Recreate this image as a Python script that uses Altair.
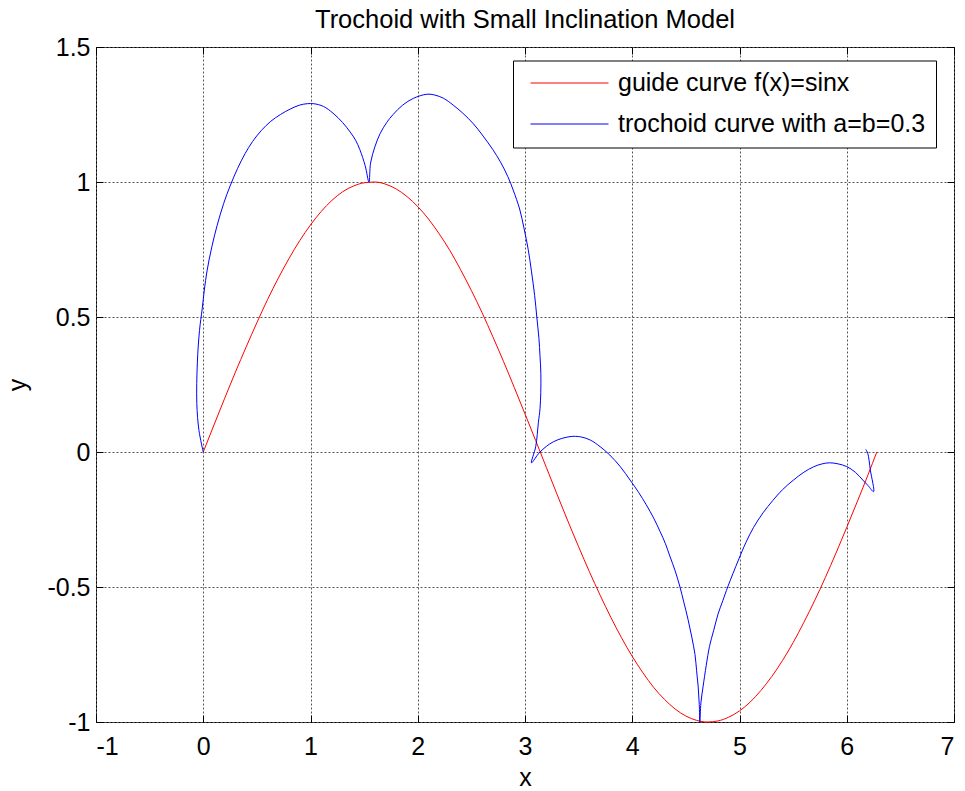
import altair as alt
import pandas as pd

FONT = "Liberation Sans"
FS = 25
SERIES = ["guide curve f(x)=sinx", "trochoid curve with a=b=0.3"]
COLORS = ["#ff0000", "#0000ff"]
X_TICKS = [-1, 0, 1, 2, 3, 4, 5, 6, 7]
Y_TICKS = [-1, -0.5, 0, 0.5, 1, 1.5]

# guide curve
guide_x = [0.0, 0.1, 0.2, 0.3, 0.4, 0.5, 0.6, 0.7, 0.8, 0.9,
           1.0, 1.1, 1.2, 1.3, 1.4, 1.5, 1.6, 1.7, 1.8, 1.9,
           2.0, 2.1, 2.2, 2.3, 2.4, 2.5, 2.6, 2.7, 2.8, 2.9,
           3.0, 3.1, 3.2, 3.3, 3.4, 3.5, 3.6, 3.7, 3.8, 3.9,
           4.0, 4.1, 4.2, 4.3, 4.4, 4.5, 4.6, 4.7, 4.8, 4.9,
           5.0, 5.1, 5.2, 5.3, 5.4, 5.5, 5.6, 5.7, 5.8, 5.9,
           6.0, 6.1, 6.2, 6.28]
guide_y = [0.000, 0.100, 0.199, 0.296, 0.389, 0.479, 0.565, 0.644, 0.717, 0.783,
           0.841, 0.891, 0.932, 0.964, 0.985, 0.997, 1.000, 0.992, 0.974, 0.946,
           0.909, 0.863, 0.808, 0.746, 0.675, 0.598, 0.516, 0.427, 0.335, 0.239,
           0.141, 0.042, -0.058, -0.158, -0.256, -0.351, -0.443, -0.530, -0.612, -0.688,
           -0.757, -0.818, -0.872, -0.916, -0.952, -0.978, -0.994, -1.000, -0.996, -0.982,
           -0.959, -0.926, -0.883, -0.832, -0.773, -0.706, -0.631, -0.551, -0.465, -0.374,
           -0.279, -0.182, -0.083, 0.000]

# trochoid curve (in drawing order)
troch_x = [0.00, -0.04, -0.06, -0.055, -0.035, -0.01, 0.01, 0.035, 0.08, 0.13,
           0.19, 0.25, 0.32, 0.39, 0.46, 0.54, 0.63, 0.72, 0.81, 0.90, 0.97,
           1.03, 1.12, 1.21, 1.30, 1.37, 1.42, 1.46, 1.51, 1.545, 1.56, 1.60,
           1.65, 1.71, 1.77, 1.86, 1.96, 2.085, 2.16, 2.24, 2.33, 2.42, 2.52,
           2.61, 2.70, 2.77, 2.84, 2.89, 2.95, 2.99, 3.03, 3.06, 3.09, 3.11,
           3.13, 3.14, 3.148, 3.147, 3.14, 3.125, 3.10, 3.06,
           3.14, 3.265, 3.42, 3.52, 3.61, 3.70, 3.79, 3.89, 3.98, 4.06, 4.13,
           4.20, 4.26, 4.31, 4.35, 4.40, 4.445, 4.48, 4.52, 4.555, 4.585, 4.60,
           4.615, 4.625, 4.63, 4.64, 4.66, 4.69, 4.72, 4.76, 4.80, 4.845, 4.89,
           4.99, 5.06, 5.13, 5.22, 5.31, 5.40, 5.50, 5.60, 5.69, 5.77, 5.84,
           5.92, 6.00, 6.08, 6.15, 6.20, 6.25, 6.22, 6.196, 6.177]
troch_y = [0.00, 0.08, 0.18, 0.33, 0.45, 0.53, 0.60, 0.67, 0.76, 0.84,
           0.92, 0.985, 1.05, 1.105, 1.15, 1.19, 1.225, 1.25, 1.27, 1.285, 1.29,
           1.29, 1.28, 1.255, 1.22, 1.185, 1.155, 1.12, 1.06, 1.00, 1.07, 1.13,
           1.18, 1.22, 1.25, 1.285, 1.31, 1.325, 1.322, 1.31, 1.285, 1.255, 1.215,
           1.17, 1.12, 1.075, 1.02, 0.97, 0.90, 0.83, 0.75, 0.67, 0.58, 0.50,
           0.42, 0.355, 0.29, 0.22, 0.16, 0.11, 0.02, -0.04,
           0.00, 0.038, 0.057, 0.056, 0.044, 0.02, -0.011, -0.055, -0.104, -0.15, -0.195,
           -0.245, -0.295, -0.34, -0.385, -0.44, -0.50, -0.555, -0.62, -0.685, -0.75, -0.81,
           -0.87, -0.935, -1.00, -0.93, -0.87, -0.79, -0.72, -0.66, -0.60, -0.55, -0.50,
           -0.40, -0.335, -0.28, -0.225, -0.18, -0.14, -0.105, -0.075, -0.055, -0.044, -0.04,
           -0.044, -0.054, -0.075, -0.104, -0.125, -0.147, -0.067, -0.005, 0.01]

guide = pd.DataFrame({"x": guide_x, "y": guide_y, "s": SERIES[0]})
guide["i"] = range(len(guide))
troch = pd.DataFrame({"x": troch_x, "y": troch_y, "s": SERIES[1]})
troch["i"] = range(len(troch))

xs = alt.Scale(domain=[-1, 7], nice=False, zero=False)
ys = alt.Scale(domain=[-1, 1.5], nice=False, zero=False)
cs = alt.Scale(domain=SERIES, range=COLORS)

legend = alt.Legend(
    title=None, orient="none", legendX=417, legendY=13.5, direction="vertical",
    symbolType="M-5,0H73", symbolSize=4, symbolStrokeWidth=1,
    labelFont=FONT, labelFontSize=FS, labelColor="black", labelOffset=70,
    labelLimit=0, padding=10, rowPadding=15, strokeColor="black",
    fillColor="white", cornerRadius=0,
)

common = dict(
    tickColor="black", tickWidth=1, tickSize=7, offset=-7, domain=False,
    labelFont=FONT, labelFontSize=FS, labelColor="black",
    titleFont=FONT, titleFontSize=FS, titleFontWeight="normal", titleColor="black",
    gridColor="#555555", gridDash=[2, 2], gridWidth=1,
    labelExpr="datum.value",
)

x_axis = alt.Axis(values=X_TICKS, orient="bottom", grid=True, labelPadding=12,
                  title="x", titleY=70, titleBaseline="alphabetic", **common)
y_axis = alt.Axis(values=Y_TICKS, orient="left", grid=True, labelPadding=6,
                  title="y", titleX=-78, titleY=337.5, titleAngle=270,
                  titleAlign="center", titleBaseline="alphabetic", **common)
top_axis = alt.Axis(values=X_TICKS, orient="top", grid=False, labels=False,
                    title=None, offset=-7, tickSize=7, tickColor="black", domain=False)
right_axis = alt.Axis(values=Y_TICKS, orient="right", grid=False, labels=False,
                      title=None, offset=-7, tickSize=7, tickColor="black", domain=False)

frame = alt.Chart(guide).mark_line(opacity=0).encode(
    x=alt.X("x:Q", scale=xs, axis=top_axis),
    y=alt.Y("y:Q", scale=ys, axis=right_axis),
)

guide_line = alt.Chart(guide).mark_line(strokeWidth=1, interpolate="monotone").encode(
    x=alt.X("x:Q", scale=xs, axis=x_axis),
    y=alt.Y("y:Q", scale=ys, axis=y_axis),
    color=alt.Color("s:N", scale=cs, legend=legend),
    order="i:Q",
)

troch_line = alt.Chart(troch).mark_line(strokeWidth=1, interpolate="catmull-rom").encode(
    x=alt.X("x:Q", scale=xs, axis=None),
    y=alt.Y("y:Q", scale=ys, axis=None),
    color=alt.Color("s:N", scale=cs, legend=legend),
    order="i:Q",
)

chart = alt.layer(frame, guide_line, troch_line).properties(
    width=858, height=675,
    padding={"left": 96, "top": 47, "right": 11, "bottom": 69},
    autosize=alt.AutoSizeParams(type="none"),
    title=alt.TitleParams("Trochoid with Small Inclination Model", font=FONT,
                          fontSize=25.5, fontWeight="normal", color="black",
                          anchor="middle", offset=15, dy=13),
    background="white",
).configure_view(stroke="black", strokeWidth=1, fill="white")

chart.save("out.html", embed_options={"renderer": "svg", "actions": False})
